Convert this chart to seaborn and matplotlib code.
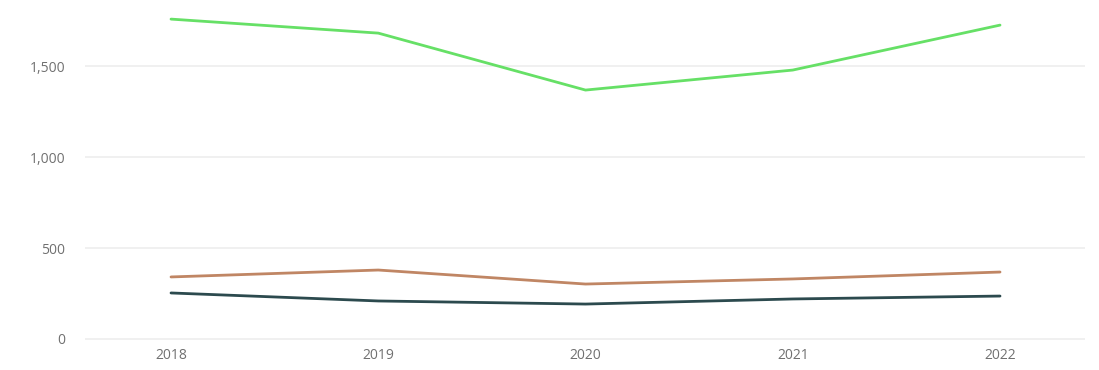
import matplotlib
matplotlib.use("Agg")
import matplotlib.pyplot as plt
import seaborn as sns
import pandas as pd

years = [2018, 2019, 2020, 2021, 2022]
series_a = [1758, 1681, 1368, 1478, 1725]
series_b = [341, 379, 302, 330, 368]
series_c = [253, 209, 192, 220, 236]
series_names = ["A", "B", "C"]
colors = ["#66E066", "#C08664", "#2C4A4E"]

df = pd.DataFrame({
    "year": years * 3,
    "value": series_a + series_b + series_c,
    "series": [series_names[0]] * 5 + [series_names[1]] * 5 + [series_names[2]] * 5,
})

sns.set_theme(style="white")
plt.rcParams['font.family'] = ['Open Sans', 'DejaVu Sans']

fig = plt.figure(figsize=(10.99, 3.70), dpi=100)
ax = fig.add_axes([85 / 1099, (370 - 345) / 370, 1000 / 1099, 345 / 370])

sns.lineplot(data=df, x="year", y="value", hue="series",
             palette=dict(zip(series_names, colors)), linewidth=2.0,
             legend=False, ax=ax)

ax.set_xlim(2017.585, 2022.41)
ax.set_ylim(-33, 1863)
ax.set_xticks(years)
ax.set_xticklabels([str(y) for y in years])
ax.set_yticks([0, 500, 1000, 1500])
ax.set_yticklabels(["0", "500", "1,000", "1,500"])
ax.grid(axis="y", color="#EDEDED", linewidth=1.2)
ax.set_axisbelow(True)
for s in ax.spines.values():
    s.set_visible(False)
ax.tick_params(axis="both", length=0, labelsize=10, labelcolor="#707070")
ax.tick_params(axis="x", pad=2)
ax.tick_params(axis="y", pad=14)
ax.set_xlabel("")
ax.set_ylabel("")

fig.savefig("out.png", dpi=100)
